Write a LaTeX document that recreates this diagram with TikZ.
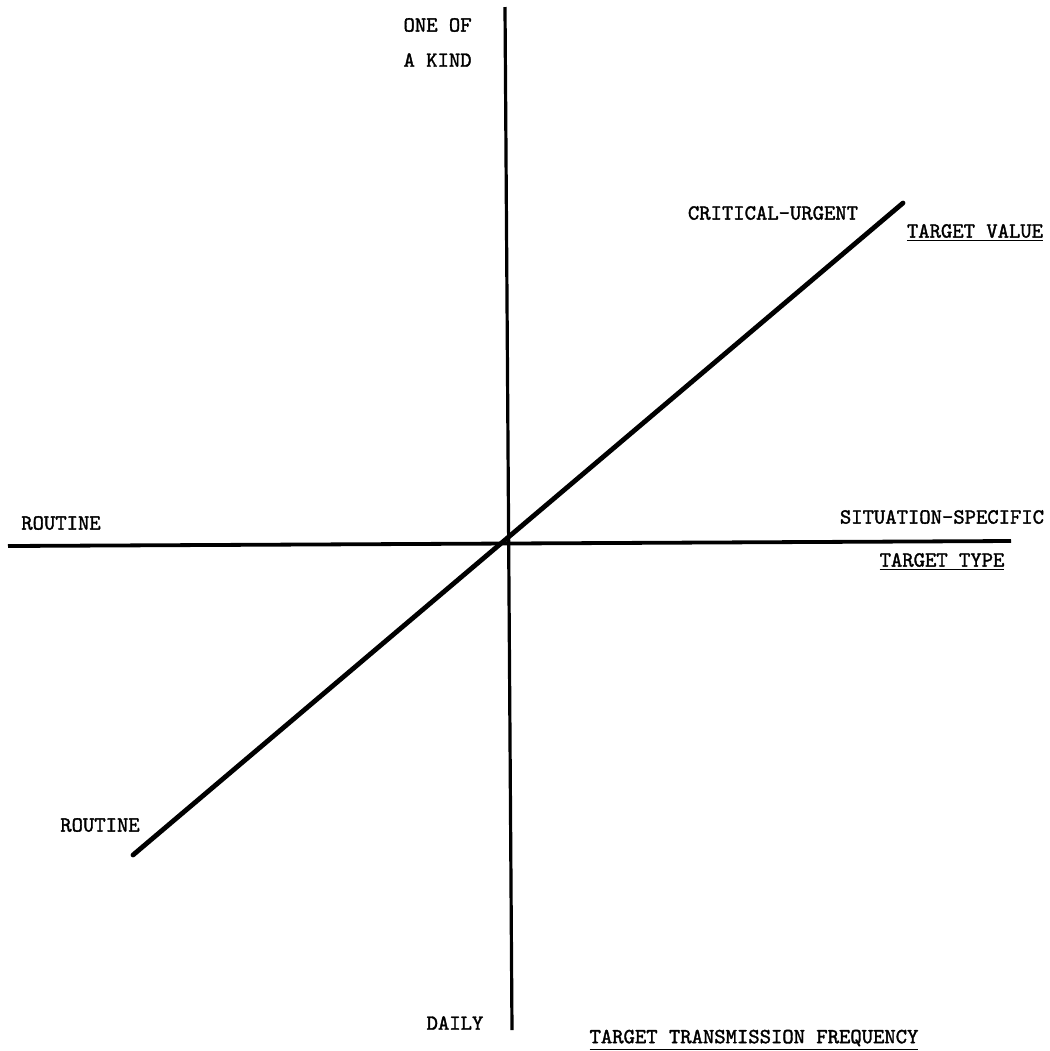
\documentclass[tikz,border=0pt]{standalone}
\usepackage{fontspec}
\newfontfamily\twfont{Latin Modern Mono}[FakeBold=1.6]
\begin{document}
\begin{tikzpicture}[x=0.5pt,y=-0.5pt,
  lbl/.style={font=\twfont\fontsize{10.8}{12}\selectfont, inner sep=0pt},
  axis/.style={line width=1.6pt, line cap=butt},
  diag/.style={line width=2.4pt, line cap=round}]
\useasboundingbox (0,0) rectangle (1050,1051);
% axis end points
\coordinate (vtop) at (505,7);
\coordinate (vbot) at (512,1030);
\coordinate (hleft) at (8,546);
\coordinate (hright) at (1011,541);
\coordinate (dlow) at (133,855);
\coordinate (dhigh) at (903,203);
\draw[axis] (vtop) -- (vbot);
\draw[axis, line width=1.9pt] (hleft) -- (hright);
\draw[diag] (dlow) -- (dhigh);
% labels
\node[lbl, anchor=east] (oneof) at (472,25) {ONE OF};
\node[lbl, anchor=east] (akind) at (472,60) {A KIND};
\node[lbl] (crit) at (773,213) {CRITICAL-URGENT};
\node[lbl] (tval) at (975,233) {\underline{TARGET VALUE}};
\node[lbl] (routl) at (61,523) {ROUTINE};
\node[lbl] (sitspec) at (942,517) {SITUATION-SPECIFIC};
\node[lbl] (ttype) at (942,562) {\underline{TARGET TYPE}};
\node[lbl] (routd) at (100,825) {ROUTINE};
\node[lbl] (daily) at (455,1023) {DAILY};
\node[lbl] (ttf) at (754,1040) {\underline{TARGET TRANSMISSION FREQUENCY}};
\end{tikzpicture}
\end{document}
